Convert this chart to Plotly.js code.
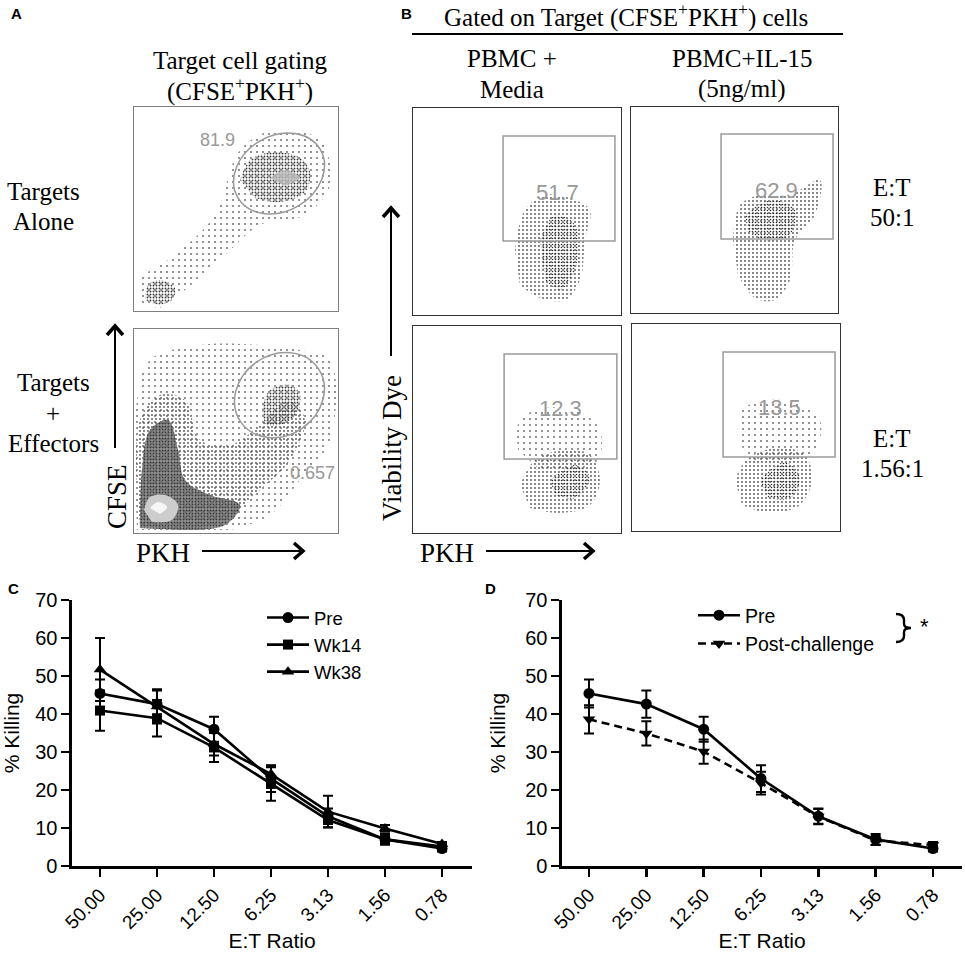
<!DOCTYPE html>
<html>
<head>
<meta charset="utf-8">
<script src="https://cdn.plot.ly/plotly-3.0.1.min.js"></script>
<style>html,body{margin:0;padding:0;background:#fff;}#chart{width:965px;height:960px;}</style>
</head>
<body>
<div id="chart"></div>
<script>
// ---------------- DATA: killing curves (panels C, D) ----------------
const ratioLabels = ['50.00','25.00','12.50','6.25','3.13','1.56','0.78'];
const preKill  = [45.4, 42.6, 36.0, 23.0, 13.1, 7.0, 4.6];
const preErr   = [3.7, 3.6, 3.3, 3.5, 2.0, 1.4, 0.8];
const wk14Kill = [40.9, 38.9, 31.2, 21.6, 12.1, 7.0, 5.1];
const wk14Err  = [5.3, 4.8, 3.8, 4.4, 1.9, 1.2, 0.7];
const wk38Kill = [51.7, 42.0, 32.1, 24.2, 14.3, 9.9, 5.8];
const wk38Err  = [8.3, 4.5, 3.0, 2.2, 4.2, 0.9, 0.5];
const postKill = [38.6, 34.9, 30.1, 21.8, 13.0, 6.7, 5.5];
const postErr  = [3.7, 3.2, 3.2, 3.0, 2.0, 1.2, 0.8];

// ---------------- DATA: flow-cytometry gates (panel A, B) ----------------
const gateLabels = ['81.9', '0.657', '51.7', '62.9', '12.3', '13.5'];
const gateLabelX = [40.7, 87.3, 69.7, 70.5, 70.7, 70.7];
const gateLabelY = [83.8, 29.4, 59.4, 59.7, 60.0, 59.9];
const aTopGate = [71.1, 67.4, 23.4, 18.5, 30];   // ellipse cx, cy, a, b, tilt
const aBotGate = [71.3, 67.6, 23.1, 19.7, 35];
const b1Gate = [43.3, 97.1, 35.7, 86.5];          // rect x0, x1, y0, y1
const b2Gate = [43.5, 97.6, 35.9, 86.9];
const b3Gate = [43.8, 98.0, 35.7, 86.5];
const b4Gate = [43.8, 97.6, 35.7, 86.5];

// event-cloud outlines (axis units 0-100)
const aTopBandX = [2.9, 2.9, 20.1, 39.7, 52.0, 69.1, 91.2, 96.1, 83.8, 61.8, 44.6, 25.0, 12.7];
const aTopBandY = [2.9, 15.2, 27.5, 47.1, 78.9, 88.7, 83.8, 61.8, 47.1, 42.2, 27.5, 10.3, 1.5];
const aTopMainX = [52.0, 56.9, 69.1, 81.4, 86.3, 83.8, 71.6, 59.3];
const aTopMainY = [64.2, 74.0, 77.9, 75.0, 68.1, 58.3, 53.4, 55.4];
const aTopCoreX = [66.7, 74.0, 81.4, 74.0];
const aTopCoreY = [65.2, 69.1, 65.2, 61.3];
const aTopLowX = [5.4, 6.9, 12.7, 20.1, 18.6, 11.8];
const aTopLowY = [5.4, 12.7, 15.2, 11.3, 5.4, 2.9];

const aBotSparseX = [1.5, 1.5, 7.8, 32.4, 61.8, 81.4, 96.1, 96.1, 81.4, 66.7, 47.1];
const aBotSparseY = [1.5, 65.2, 84.8, 92.2, 92.2, 89.7, 84.8, 45.6, 26.0, 8.8, 1.5];
const aBotBandX = [2.9, 2.9, 12.7, 25.0, 32.4, 47.1, 61.8, 76.5, 83.8, 76.5, 61.8, 44.6, 22.5];
const aBotBandY = [3.9, 55.4, 67.6, 65.2, 45.6, 43.1, 52.9, 65.2, 55.4, 35.8, 21.1, 6.4, 1.5];
const aBotGateX = [62.7, 66.7, 76.5, 81.4, 79.0, 71.6, 64.2];
const aBotGateY = [60.3, 70.1, 72.5, 67.6, 57.8, 52.9, 52.9];
const aBotDenseX = [2.9, 3.9, 7.8, 16.7, 21.6, 25.0, 37.3, 52.0, 44.6, 22.5];
const aBotDenseY = [2.5, 30.9, 50.5, 55.4, 40.7, 26.0, 18.6, 13.7, 3.9, 1.5];
const aBotLightX = [4.9, 7.8, 15.2, 21.6, 18.6, 8.8];
const aBotLightY = [11.3, 17.6, 18.6, 13.7, 6.4, 5.4];
const aBotCoreX = [7.8, 11.8, 16.2, 12.7];
const aBotCoreY = [12.3, 15.2, 12.7, 9.3];

const b1OuterX = [49.0, 53.8, 63.5, 77.9, 85.1, 82.7, 80.3, 73.1, 61.1, 51.4];
const b1OuterY = [31.4, 50.7, 58.0, 55.6, 50.7, 36.2, 16.9, 7.2, 8.2, 14.5];
const b1InnerX = [61.1, 68.3, 77.9, 77.9, 70.7, 63.5];
const b1InnerY = [36.2, 48.3, 43.5, 21.7, 12.1, 16.9];
const b2OuterX = [49.3, 52.7, 62.3, 76.8, 91.3, 88.9, 79.2, 76.8, 69.6, 59.9, 51.7];
const b2OuterY = [35.4, 52.4, 57.3, 57.3, 64.6, 47.6, 35.4, 16.0, 6.3, 7.3, 18.4];
const b2InnerX = [55.1, 67.1, 79.2, 76.8, 64.7, 56.5];
const b2InnerY = [47.6, 54.9, 50.0, 37.9, 35.4, 39.3];
const b3UpperX = [50.5, 51.4, 63.5, 80.3, 89.9, 88.9, 75.5, 61.1];
const b3UpperY = [40.1, 54.6, 60.4, 58.5, 49.8, 35.3, 30.4, 30.4];
const b3LowerX = [51.4, 58.7, 73.1, 85.1, 89.9, 85.1, 70.7, 56.3];
const b3LowerY = [23.2, 35.3, 40.1, 37.7, 25.6, 13.5, 9.7, 12.1];
const b3CoreX = [65.9, 77.9, 85.1, 77.9, 68.3];
const b3CoreY = [25.6, 32.9, 26.6, 16.9, 18.4];
const b4UpperX = [51.0, 52.9, 66.3, 80.8, 90.4, 88.0, 76.0, 56.7];
const b4UpperY = [44.0, 58.5, 63.3, 60.9, 53.6, 39.1, 34.3, 34.3];
const b4LowerX = [49.5, 55.8, 71.2, 83.2, 86.5, 80.8, 66.3, 52.9];
const b4LowerY = [24.6, 35.3, 40.1, 36.7, 24.6, 12.6, 8.7, 12.6];
const b4CoreX = [61.5, 73.6, 80.8, 76.0, 65.4];
const b4CoreY = [24.6, 33.3, 25.6, 15.9, 15.9];

// ---------------- helpers (layout only) ----------------
const W = 965, H = 960;
const px = v => v / W;
const py = v => 1 - v / H;
const SERIF = 'Liberation Serif, Times New Roman, serif';
const SANS = 'Liberation Sans, Arial, sans-serif';

const patterns = {
  sparse: {shape: '.', size: 6, solidity: 0.07, fgcolor: '#606060', bgcolor: 'rgba(0,0,0,0)'},
  medium: {shape: '.', size: 4, solidity: 0.16, fgcolor: '#505050', bgcolor: 'rgba(0,0,0,0)'},
  dense:  {shape: '.', size: 3, solidity: 0.30, fgcolor: '#3a3a3a', bgcolor: 'rgba(0,0,0,0)'},
  core:   {shape: '.', size: 3, solidity: 0.22, fgcolor: '#303030', bgcolor: 'rgba(0,0,0,0)'}
};
function cloud(xs, ys, ax, ay, kind, solidFill) {
  const t = {
    type: 'scatter', mode: 'lines', x: xs, y: ys, xaxis: ax, yaxis: ay,
    fill: 'toself', line: {width: 0, shape: 'spline', smoothing: 1, color: 'rgba(0,0,0,0)'},
    hoverinfo: 'skip', showlegend: false
  };
  if (solidFill) { t.fillcolor = solidFill; }
  else { t.fillcolor = 'rgba(0,0,0,0)'; t.fillpattern = patterns[kind]; }
  return t;
}
function ellipsePath(g) {
  const [cx, cy, a, b, deg] = g;
  const t = deg * Math.PI / 180, k = 0.5523;
  const pts = [[a,0],[a,k*b],[k*a,b],[0,b],[-k*a,b],[-a,k*b],[-a,0],[-a,-k*b],[-k*a,-b],[0,-b],[k*a,-b],[a,-k*b],[a,0]];
  const r = pts.map(([x, y]) => [cx + x*Math.cos(t) - y*Math.sin(t), cy + x*Math.sin(t) + y*Math.cos(t)]);
  let p = `M${r[0][0]},${r[0][1]}`;
  for (let i = 1; i < r.length; i += 3) p += ` C${r[i][0]},${r[i][1]} ${r[i+1][0]},${r[i+1][1]} ${r[i+2][0]},${r[i+2][1]}`;
  return p + ' Z';
}

// ---------------- traces ----------------
const traces = [];
function killTrace(name, y, err, ax, ay, sym, dash, leg) {
  return {
    type: 'scatter', mode: 'lines+markers', name: name, x: ratioLabels, y: y,
    xaxis: ax, yaxis: ay, legend: leg,
    line: {color: '#000', width: 2.6, dash: dash},
    marker: {symbol: sym, size: sym === 'square' ? 10 : 11, color: '#000'},
    error_y: {type: 'data', array: err, visible: true, color: '#000', thickness: 2, width: 5}
  };
}
traces.push(killTrace('Pre', preKill, preErr, 'x', 'y', 'circle', 'solid', 'legend'));
traces.push(killTrace('Wk14', wk14Kill, wk14Err, 'x', 'y', 'square', 'solid', 'legend'));
traces.push(killTrace('Wk38', wk38Kill, wk38Err, 'x', 'y', 'triangle-up', 'solid', 'legend'));
traces.push(killTrace('Pre', preKill, preErr, 'x2', 'y2', 'circle', 'solid', 'legend2'));
traces.push(killTrace('Post-challenge', postKill, postErr, 'x2', 'y2', 'triangle-down', '8px,5px', 'legend2'));

// panel A top
traces.push(cloud(aTopBandX, aTopBandY, 'x3', 'y3', 'sparse'));
traces.push(cloud(aTopMainX, aTopMainY, 'x3', 'y3', 'dense'));
traces.push(cloud(aTopCoreX, aTopCoreY, 'x3', 'y3', null, 'rgba(185,185,185,0.8)'));
traces.push(cloud(aTopLowX, aTopLowY, 'x3', 'y3', 'dense'));
// panel A bottom
traces.push(cloud(aBotSparseX, aBotSparseY, 'x4', 'y4', 'sparse'));
traces.push(cloud(aBotBandX, aBotBandY, 'x4', 'y4', 'medium'));
traces.push(cloud(aBotGateX, aBotGateY, 'x4', 'y4', 'dense'));
traces.push(cloud(aBotDenseX, aBotDenseY, 'x4', 'y4', null, 'rgba(110,110,110,0.75)'));
traces.push(cloud(aBotDenseX, aBotDenseY, 'x4', 'y4', 'dense'));
traces.push(cloud(aBotLightX, aBotLightY, 'x4', 'y4', null, '#cdcdcd'));
traces.push(cloud(aBotCoreX, aBotCoreY, 'x4', 'y4', null, '#f6f6f6'));
// panel B
traces.push(cloud(b1OuterX, b1OuterY, 'x5', 'y5', 'medium'));
traces.push(cloud(b1InnerX, b1InnerY, 'x5', 'y5', 'core'));
traces.push(cloud(b2OuterX, b2OuterY, 'x6', 'y6', 'medium'));
traces.push(cloud(b2InnerX, b2InnerY, 'x6', 'y6', 'core'));
traces.push(cloud(b3UpperX, b3UpperY, 'x7', 'y7', 'sparse'));
traces.push(cloud(b3LowerX, b3LowerY, 'x7', 'y7', 'medium'));
traces.push(cloud(b3CoreX, b3CoreY, 'x7', 'y7', 'core'));
traces.push(cloud(b4UpperX, b4UpperY, 'x8', 'y8', 'sparse'));
traces.push(cloud(b4LowerX, b4LowerY, 'x8', 'y8', 'medium'));
traces.push(cloud(b4CoreX, b4CoreY, 'x8', 'y8', 'core'));

// ---------------- axes ----------------
function killX(dom, range) {
  return {domain: dom, range: range, type: 'category', showgrid: false, zeroline: false,
    showline: true, linecolor: '#000', linewidth: 2.6, ticks: 'outside', ticklen: 8, tickwidth: 2.6,
    tickcolor: '#000', tickangle: -45, tickfont: {family: SANS, size: 19, color: '#000'},
    title: {text: 'E:T Ratio', font: {family: SANS, size: 21, color: '#000'}, standoff: 2}};
}
function killY(dom, anchor) {
  return {domain: dom, range: [0, 70], anchor: anchor, dtick: 10, showgrid: false, zeroline: false,
    showline: true, linecolor: '#000', linewidth: 2.6, ticks: 'outside', ticklen: 8, tickwidth: 2.6,
    tickcolor: '#000', tickfont: {family: SANS, size: 20, color: '#000'},
    title: {text: '% Killing', font: {family: SANS, size: 21, color: '#000'}, standoff: 14}};
}
function flowAx(dom, anchor, col) {
  return {domain: dom, anchor: anchor, range: [0, 100], showgrid: false, zeroline: false,
    showticklabels: false, ticks: '', showline: true, mirror: true, linecolor: col, linewidth: 1.4, fixedrange: true};
}
const layout = {
  width: W, height: H, margin: {l: 0, r: 0, t: 0, b: 0},
  paper_bgcolor: '#fff', plot_bgcolor: 'rgba(0,0,0,0)',
  font: {family: SANS, color: '#000'},
  xaxis: Object.assign(killX([px(72), px(472)], [-0.491, 6.526]), {anchor: 'y'}),
  yaxis: killY([py(866), py(600)], 'x'),
  xaxis2: Object.assign(killX([px(562), px(962)], [-0.471, 6.506]), {anchor: 'y2'}),
  yaxis2: killY([py(866), py(600)], 'x2'),
  xaxis3: flowAx([px(134), px(338)], 'y3', '#808080'),
  yaxis3: flowAx([py(311), py(107)], 'x3', '#808080'),
  xaxis4: flowAx([px(134), px(338)], 'y4', '#808080'),
  yaxis4: flowAx([py(533), py(329)], 'x4', '#808080'),
  xaxis5: flowAx([px(413), px(621)], 'y5', '#333'),
  yaxis5: flowAx([py(315), py(108)], 'x5', '#333'),
  xaxis6: flowAx([px(631), px(838)], 'y6', '#333'),
  yaxis6: flowAx([py(313), py(107)], 'x6', '#333'),
  xaxis7: flowAx([px(413), px(621)], 'y7', '#333'),
  yaxis7: flowAx([py(533), py(326)], 'x7', '#333'),
  xaxis8: flowAx([px(632), px(840)], 'y8', '#333'),
  yaxis8: flowAx([py(531), py(324)], 'x8', '#333'),
  legend: {x: px(262), y: py(599), xanchor: 'left', yanchor: 'top', bgcolor: 'rgba(0,0,0,0)',
    font: {family: SANS, size: 18.5, color: '#000'}, itemwidth: 42, tracegroupgap: 0},
  legend2: {x: px(693), y: py(596), xanchor: 'left', yanchor: 'top', bgcolor: 'rgba(0,0,0,0)',
    font: {family: SANS, size: 19.5, color: '#000'}, itemwidth: 42, tracegroupgap: 0},
  shapes: [], annotations: []
};

// gates
const gateLine = {color: '#9a9a9a', width: 1.5};
layout.shapes.push({type: 'path', xref: 'x3', yref: 'y3', path: ellipsePath(aTopGate), line: gateLine});
layout.shapes.push({type: 'path', xref: 'x4', yref: 'y4', path: ellipsePath(aBotGate), line: gateLine});
[[b1Gate, 'x5', 'y5'], [b2Gate, 'x6', 'y6'], [b3Gate, 'x7', 'y7'], [b4Gate, 'x8', 'y8']].forEach(([g, xr, yr]) => {
  layout.shapes.push({type: 'rect', xref: xr, yref: yr, x0: g[0], x1: g[1], y0: g[2], y1: g[3], line: gateLine});
});
const gateAxes = [['x3','y3',18], ['x4','y4',18], ['x5','y5',22], ['x6','y6',22], ['x7','y7',22], ['x8','y8',22]];
gateLabels.forEach((t, i) => {
  layout.annotations.push({text: t, xref: gateAxes[i][0], yref: gateAxes[i][1], x: gateLabelX[i], y: gateLabelY[i],
    showarrow: false, font: {family: SANS, size: gateAxes[i][2], color: '#999'}});
});

// arrows & lines (paper coords)
function pLine(x0, y0, x1, y1, w) {
  layout.shapes.push({type: 'line', xref: 'paper', yref: 'paper', x0: px(x0), y0: py(y0), x1: px(x1), y1: py(y1), line: {color: '#000', width: w}});
}
function pPath(pts, w) {
  let p = 'M' + pts.map(q => px(q[0]) + ',' + py(q[1])).join(' L');
  layout.shapes.push({type: 'path', xref: 'paper', yref: 'paper', path: p, line: {color: '#000', width: w}});
}
function upArrow(x, yTail, yHead) { pLine(x, yTail, x, yHead + 1, 2); pPath([[x - 8, yHead + 9], [x, yHead], [x + 8, yHead + 9]], 3.5); }
function rightArrow(y, xTail, xHead) { pLine(xTail, y, xHead - 1, y, 2); pPath([[xHead - 9, y - 8], [xHead, y], [xHead - 9, y + 8]], 3.5); }
upArrow(115, 448, 326);
rightArrow(551, 202, 303);
upArrow(391, 356, 208);
rightArrow(551, 486, 593);
pLine(412, 34, 843, 34, 2);
// significance brace in panel D
layout.shapes.push({type: 'path', xref: 'paper', yref: 'paper', line: {color: '#000', width: 2.4},
  path: `M${px(896)},${py(614)} Q${px(904)},${py(614)} ${px(904)},${py(620)} L${px(904)},${py(624)} Q${px(904)},${py(628)} ${px(911)},${py(628)} Q${px(904)},${py(628)} ${px(904)},${py(632)} L${px(904)},${py(636)} Q${px(904)},${py(642)} ${px(896)},${py(642)}`});

// text annotations
function txt(t, x, y, size, fam, extra) {
  layout.annotations.push(Object.assign({text: t, xref: 'paper', yref: 'paper', x: px(x), y: py(y),
    xanchor: 'center', yanchor: 'middle', showarrow: false, font: {family: fam, size: size, color: '#000'}}, extra || {}));
}
txt('<b>A</b>', 16, 14, 15, SANS);
txt('<b>B</b>', 406, 13, 15, SANS);
txt('<b>C</b>', 13, 588, 15, SANS);
txt('<b>D</b>', 490, 588, 15, SANS);
txt('Target cell gating', 240, 60, 25, SERIF);
txt('(CFSE<sup>+</sup>PKH<sup>+</sup>)', 240, 89, 25, SERIF);
txt('Targets', 43, 192, 25, SERIF);
txt('Alone', 43, 221, 25, SERIF);
txt('Targets', 53, 382, 25, SERIF);
txt('+', 53, 413, 25, SERIF);
txt('Effectors', 53, 443, 25, SERIF);
txt('CFSE', 117, 497, 27, SERIF, {textangle: -90});
txt('PKH', 163, 553, 27, SERIF);
txt('Gated on Target (CFSE<sup>+</sup>PKH<sup>+</sup>) cells', 626, 15, 25, SERIF);
txt('PBMC +', 512, 59, 25, SERIF);
txt('Media', 512, 89, 25, SERIF);
txt('PBMC+IL-15', 742, 59, 25, SERIF);
txt('(5ng/ml)', 742, 89, 25, SERIF);
txt('E:T', 892, 188, 25, SERIF);
txt('50:1', 892, 218, 25, SERIF);
txt('E:T', 892, 438, 25, SERIF);
txt('1.56:1', 892, 468, 25, SERIF);
txt('Viability Dye', 392, 448, 27, SERIF, {textangle: -90});
txt('PKH', 447, 553, 27, SERIF);
txt('*', 924, 626, 22, SANS);

Plotly.newPlot('chart', traces, layout, {staticPlot: true, displayModeBar: false});
</script>
</body>
</html>
